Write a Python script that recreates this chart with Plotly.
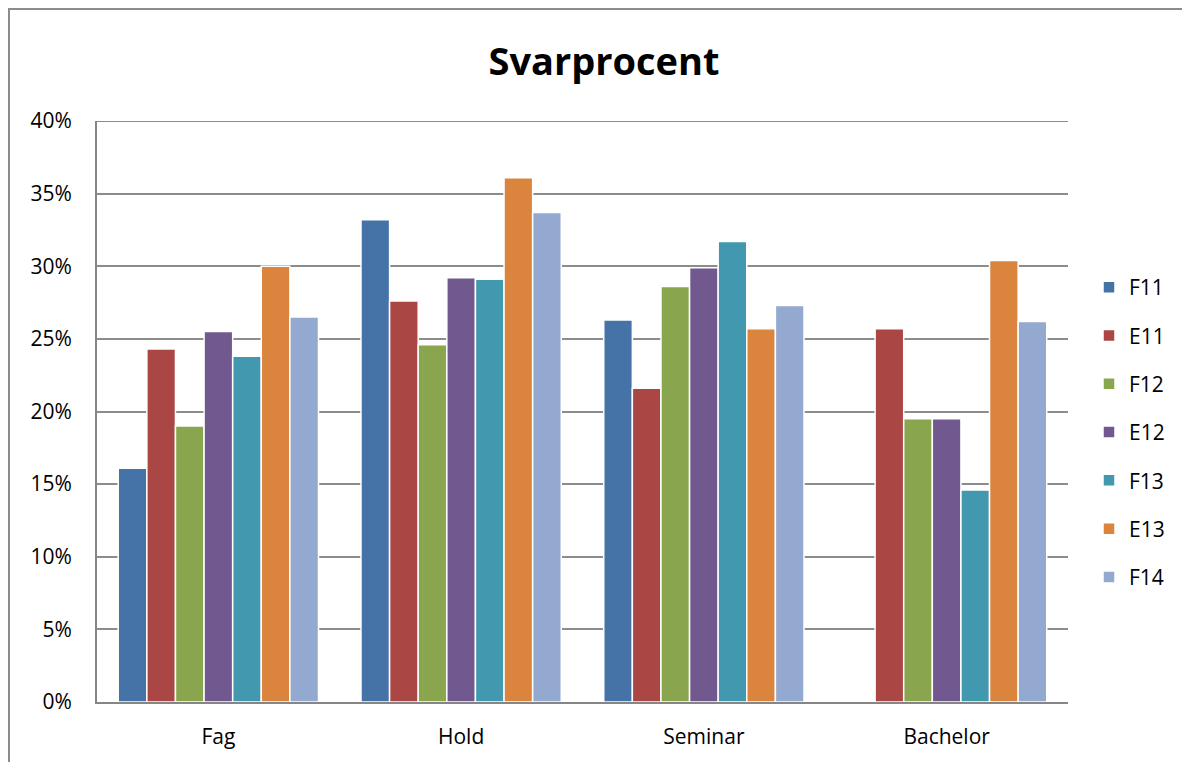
import plotly.graph_objects as go

categories = ["Fag", "Hold", "Seminar", "Bachelor"]
series_names = ["F11", "E11", "F12", "E12", "F13", "E13", "F14"]
F11 = [0.161, 0.332, 0.263, None]
E11 = [0.243, 0.276, 0.216, 0.257]
F12 = [0.190, 0.246, 0.286, 0.195]
E12 = [0.255, 0.292, 0.299, 0.195]
F13 = [0.238, 0.291, 0.317, 0.146]
E13 = [0.300, 0.361, 0.257, 0.304]
F14 = [0.265, 0.337, 0.273, 0.262]
series_values = [F11, E11, F12, E12, F13, E13, F14]
colors = ["#4572A7", "#AA4643", "#89A54E", "#71588F", "#4198AF", "#DB843D", "#93A9CF"]
y_ticks = [0, 0.05, 0.10, 0.15, 0.20, 0.25, 0.30, 0.35, 0.40]

FONT = "Open Sans, Lato, sans-serif"

fig = go.Figure()
for name, vals, col in zip(series_names, series_values, colors):
    fig.add_trace(go.Bar(
        name=name, x=categories, y=vals,
        marker=dict(color=col, line=dict(color="white", width=1.5)),
        legendgroup=name,
    ))

# page has an 8px body margin, so the figure is offset by 8px
OFF = 8
W, H = 1190 - OFF, 762 - OFF
L, R, T, B = 97 - OFF, 122, 121 - OFF, 60
pw = W - L - R
ph = H - T - B

fig.update_layout(
    width=W, height=H,
    barmode="group", bargap=0.175, bargroupgap=0,
    plot_bgcolor="white", paper_bgcolor="white",
    margin=dict(l=L, r=R, t=T, b=B, autoexpand=False),
    title=dict(text="<b>Svarprocent</b>", x=(604 - OFF) / W, xanchor="center",
               y=1 - (62 - OFF) / H, yanchor="middle",
               font=dict(family=FONT, size=38, color="black")),
    font=dict(family=FONT, size=21, color="black"),
    legend=dict(x=(1089 - 97) / pw, xanchor="left",
                y=(H - B - (267 - OFF)) / ph, yanchor="top",
                font=dict(family=FONT, size=21, color="black"),
                tracegroupgap=18, itemwidth=30, bgcolor="rgba(0,0,0,0)"),
    xaxis=dict(showline=True, linecolor="#868686", linewidth=2,
               ticks="", ticklabelstandoff=15, showgrid=False,
               tickfont=dict(family=FONT, size=21)),
    yaxis=dict(range=[0, 0.4], tickvals=y_ticks, tickformat=".0%",
               showline=True, linecolor="#868686", linewidth=2,
               showgrid=True, gridcolor="#8c8c8c", gridwidth=2,
               ticks="", ticklabelstandoff=19, zeroline=False,
               tickfont=dict(family=FONT, size=21)),
    shapes=[
        dict(type="rect", xref="paper", yref="paper",
             x0=(9 - 97) / pw, x1=(1183 - 97) / pw,
             y0=(702 - 775) / ph, y1=(702 - 9) / ph,
             line=dict(color="#8c8c8c", width=2), fillcolor="rgba(0,0,0,0)",
             layer="below"),
        dict(type="line", xref="paper", yref="y", x0=0, x1=1,
             y0=y_ticks[-1], y1=y_ticks[-1],
             line=dict(color="#8c8c8c", width=2), layer="below"),
    ],
)

fig.write_html("out.html")
